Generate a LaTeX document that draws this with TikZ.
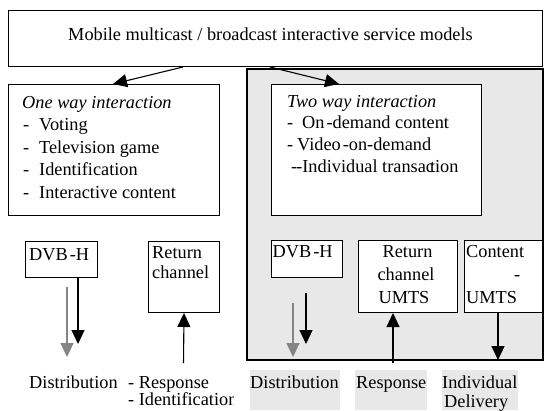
\documentclass[tikz,border=0pt]{standalone}
\usepackage{fontspec}
\setmainfont{Liberation Serif}
\usetikzlibrary{arrows.meta,calc}

\definecolor{shade}{HTML}{E8E8E8}
\definecolor{ghost}{HTML}{858585}

\tikzset{
  box/.style={draw, line width=1pt, fill=white, inner sep=0pt, anchor=north west},
  panel/.style={draw, line width=1.9pt, fill=shade, inner sep=0pt, anchor=north west},
  txt/.style={anchor=base west, inner sep=0pt, font=\fontsize{18.3}{20}\selectfont},
  ctxt/.style={txt, anchor=base},
  conn/.style={line width=1.1pt, -{Triangle[length=14pt,width=13pt]}},
  greyconn/.style={conn, draw=ghost, fill=ghost},
  tag/.style={fill=shade, inner sep=0pt, anchor=north west}
}

\newcommand\dashitem[2][16pt]{\makebox[#1][l]{-}#2}

\begin{document}
\begin{tikzpicture}[x=1pt,y=-1pt]
\useasboundingbox (0,0) rectangle (545,410);
\fill[white] (0,0) rectangle (545,410);

% shaded panel holding the two-way models
\node[panel, minimum width=296pt, minimum height=291pt] (panel) at (246,68) {};

% header
\node[box, minimum width=534pt, minimum height=56pt] (head) at (8,10) {};
\node[ctxt] (headtxt) at (270.5,40) {Mobile multicast / broadcast interactive service models};

% one way interaction
\node[box, minimum width=211pt, minimum height=131pt] (one) at (8,84) {};
\node[txt] (onet) at (22,108) {\itshape One way interaction};
\node[txt] (one1) at (23,130.5) {\dashitem{Voting}};
\node[txt] (one2) at (23,153) {\dashitem{Television game}};
\node[txt] (one3) at (23,175.5) {\dashitem{Identification}};
\node[txt] (one4) at (23,198) {\dashitem{Interactive content}};

% two way interaction
\node[box, minimum width=210pt, minimum height=131pt] (two) at (271,84) {};
\node[txt] (twot) at (287,107) {\itshape Two way interaction};
\node[txt] (two1) at (287,128.5) {\dashitem[15pt]{On\kern2pt-demand content}};
\node[txt] (two2) at (287,150.5) {\dashitem[10pt]{Video\kern2pt-on-demand}};
\node[txt] (two3) at (291,172.5) {-\kern-1pt-Individual transac\kern-4pt tion};

% lower boxes, left side
\node[box, minimum width=72pt, minimum height=36pt] (dvbl) at (25,241) {};
\node[txt] (dvblt) at (29,260) {DVB\kern2pt-H};
\node[box, minimum width=71pt, minimum height=71pt] (retl) at (148,241) {};
\node[txt] (retlt) at (152,258) {Return};
\node[txt] (retlt2) at (152,278) {channel};

% lower boxes, right side
\node[box, minimum width=71pt, minimum height=37pt] (dvbr) at (271,240) {};
\node[txt] (dvbrt) at (272.5,257) {DVB\kern2pt-H};
\node[box, minimum width=99pt, minimum height=72pt] (retr) at (358,240) {};
\node[ctxt] (retrt) at (407.5,257) {Return};
\node[ctxt] (retrt2) at (406,280) {channel};
\node[ctxt] (retrt3) at (404,303) {UMTS};
\node[box, minimum width=78pt, minimum height=72pt] (cont) at (464,240) {};
\node[txt] (contt) at (466,257) {Content};
\node[txt] (contt2) at (514,280) {-};
\node[txt] (contt3) at (466,303) {UMTS};

% top-level split
\draw[conn] ($(head.south west)+(175,0)$) -- ($(one.north west)+(105,0)$);
\draw[conn] ($(head.south west)+(262,0)$) -- ($(two.north west)+(68,0)$);

% free ends of the vertical connectors
\coordinate (distL) at (78,344);
\coordinate (gL0) at (67,287);
\coordinate (gL1) at (67,357);
\coordinate (respL) at (183.5,363);
\coordinate (dR0) at (306,293);
\coordinate (dR1) at (306,344);
\coordinate (gR0) at (293,303);
\coordinate (gR1) at (293,357);
\coordinate (respR) at (393,363);
\coordinate (indR) at (498,360);

% left side flows
\draw[conn] ($(dvbl.south west)+(53,0)$) -- (distL);
\draw[greyconn] (gL0) -- (gL1);
\draw[conn] (respL) -- (retl.south);

% right side flows
\draw[conn] (dR0) -- (dR1);
\draw[greyconn] (gR0) -- (gR1);
\draw[conn] (respR) -- (retr.south -| respR);
\draw[conn] (cont.south -| indR) -- (indR);

% captions under the left side
\node[txt] (capL1) at (29,388) {Distribution};
\node[txt] (capL2) at (128,388) {- Response};
\begin{scope}
  \clip (120,390) rectangle (233,410);
  \node[txt] (capL3) at (128,405) {- Identification};
\end{scope}

% captions under the panel
\node[tag, minimum width=90pt, minimum height=40pt] (tagD) at (250,370) {};
\node[tag, minimum width=72pt, minimum height=40pt] (tagR) at (355,370) {};
\node[tag, minimum width=76pt, minimum height=40pt] (tagI) at (442,370) {};
\node[txt] (capR1) at (250,388) {Distribution};
\node[txt] (capR2) at (356,388) {Response};
\node[txt] (capR3) at (442,388) {Individual};
\node[txt] (capR4) at (444,407) {Delivery};
\end{tikzpicture}
\end{document}
